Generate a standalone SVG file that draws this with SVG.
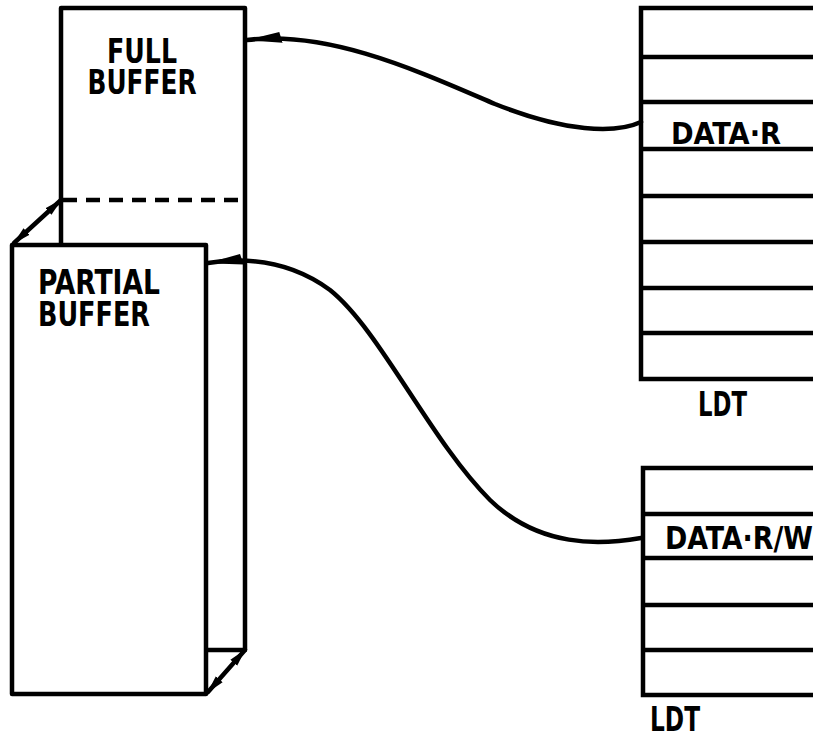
<svg xmlns="http://www.w3.org/2000/svg" width="813" height="733" viewBox="0 0 813 733">
<defs>
<style>
.box{fill:#fff;stroke:#000;stroke-width:4.5;stroke-linejoin:round}
.ln{fill:none;stroke:#000;stroke-width:4.5}
.dash{fill:none;stroke:#000;stroke-width:4.5;stroke-dasharray:14 9}
.con{fill:none;stroke:#000;stroke-width:4.5;stroke-linecap:round}
.t{font-family:"DejaVu Sans Condensed","DejaVu Sans",sans-serif;font-weight:bold;fill:#000}
</style>
<marker id="ah" viewBox="0 0 36 14" refX="35" refY="8" markerWidth="36" markerHeight="14" markerUnits="userSpaceOnUse" orient="auto">
<path d="M0 1 L36 8 L2 12 Z" fill="#000"/>
</marker>
<marker id="sh" viewBox="0 0 18 10" refX="17" refY="5" markerWidth="18" markerHeight="10" markerUnits="userSpaceOnUse" orient="auto-start-reverse">
<path d="M0 0.5 L18 5 L0 9.5 Z" fill="#000"/>
</marker>
</defs>
<g id="full-buffer">
<rect class="box" x="61" y="8" width="184" height="642"/>
<line class="dash" x1="63" y1="200" x2="243" y2="200"/>
<text class="t" x="142" y="63" font-size="33" text-anchor="middle" textLength="70" lengthAdjust="spacingAndGlyphs">FULL</text>
<text class="t" x="142" y="94" font-size="33" text-anchor="middle" textLength="109" lengthAdjust="spacingAndGlyphs">BUFFER</text>
</g>
<g id="partial-buffer">
<rect class="box" x="12" y="245" width="194" height="449"/>
<text class="t" x="38" y="294" font-size="33" textLength="122" lengthAdjust="spacingAndGlyphs">PARTIAL</text>
<text class="t" x="38" y="326" font-size="33" textLength="112" lengthAdjust="spacingAndGlyphs">BUFFER</text>
</g>
<g id="ldt-1">
<path class="ln" d="M815 8 H641 V379 H815"/>
<path class="ln" d="M641 57 H815 M641 102 H815 M641 149 H815 M641 196 H815 M641 242 H815 M641 288 H815 M641 333 H815"/>
<text class="t" x="671" y="144" font-size="31" textLength="110" lengthAdjust="spacingAndGlyphs">DATA·R</text>
<text class="t" x="698" y="416" font-size="34" textLength="49" lengthAdjust="spacingAndGlyphs">LDT</text>
</g>
<g id="ldt-2">
<path class="ln" d="M815 468 H643 V695 H815"/>
<path class="ln" d="M643 514 H815 M643 558 H815 M643 605 H815 M643 650 H815"/>
<text class="t" x="665" y="549" font-size="32" textLength="148" lengthAdjust="spacingAndGlyphs">DATA·R/W</text>
<text class="t" x="650" y="731" font-size="33" textLength="50" lengthAdjust="spacingAndGlyphs">LDT</text>
</g>
<g id="connectors">
<path class="con" d="M641 122 C615 134 565 132 495 104 C420 72 330 30 247 40" marker-end="url(#ah)"/>
<path class="con" d="M641 538 C600 545 540 548 490 500 C430 440 380 330 330 290 C300 268 260 255 208 263" marker-end="url(#ah)"/>
<line class="con" x1="61" y1="200" x2="14" y2="243" marker-start="url(#sh)" marker-end="url(#sh)"/>
<line class="con" x1="245" y1="650" x2="208" y2="692" marker-start="url(#sh)" marker-end="url(#sh)"/>
</g>
</svg>
